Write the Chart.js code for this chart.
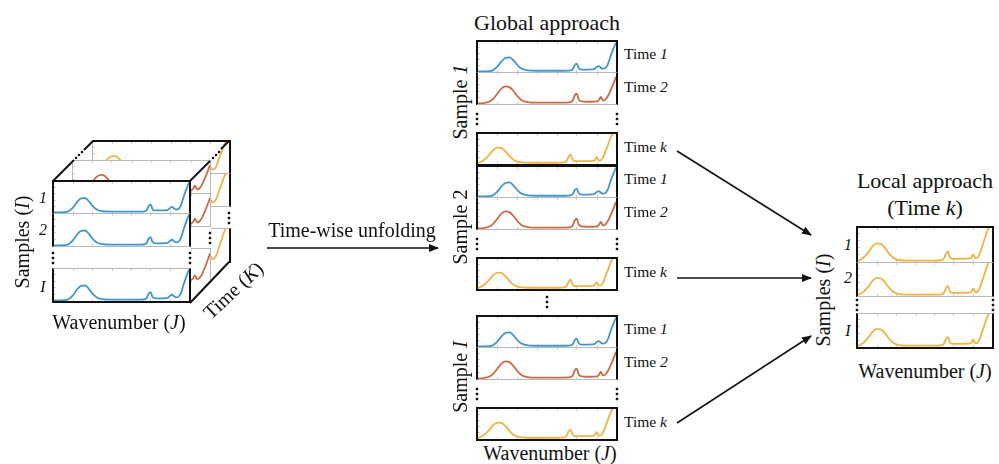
<!DOCTYPE html>
<html>
<head>
<meta charset="utf-8">
<script src="https://cdn.jsdelivr.net/npm/chart.js@4.4.0/dist/chart.umd.min.js"></script>
<style>
body { margin: 0; background: #fff; }
#stage { position: relative; width: 999px; height: 464px; overflow: hidden;
  font-family: "Liberation Serif", "Times New Roman", serif; color: #111; }
.panel { position: absolute; box-sizing: border-box; background: #fff; }
.panel canvas { display: block; }
.bg { position: absolute; background: #fff; }
.txt { position: absolute; white-space: nowrap; line-height: 1; transform: translate(-50%, -50%); }
.lbl { position: absolute; white-space: nowrap; line-height: 1; transform: translate(0, -50%); font-size: 15.5px; }
svg { position: absolute; left: 0; top: 0; }
</style>
</head>
<body>
<div id="stage"></div>
<script>
// spectra (x = position along wavenumber axis, 0..100)
const wavenumber = [0, 4, 8, 11, 14, 17, 20, 23, 26, 29, 32, 36, 42, 50, 58, 62, 64, 65.5, 67, 68.5,
  70, 71.5, 73, 75, 79, 83, 84.5, 86, 87.5, 89, 90.5, 92, 94, 96, 98, 100];
const time1 = [0, 0, 0.005, 0.04, 0.15, 0.32, 0.44, 0.45, 0.34, 0.18, 0.08, 0.035, 0.02, 0.02, 0.02, 0.02, 0.02, 0.025, 0.03, 0.06,
  0.19, 0.25, 0.1, 0.06, 0.06, 0.065, 0.08, 0.14, 0.17, 0.12, 0.09, 0.1, 0.22, 0.48, 0.72, 0.93];
const time2 = [0, 0.01, 0.05, 0.14, 0.3, 0.46, 0.53, 0.5, 0.37, 0.2, 0.09, 0.04, 0.02, 0.02, 0.02, 0.02, 0.025, 0.03, 0.04, 0.08,
  0.24, 0.3, 0.12, 0.06, 0.05, 0.05, 0.055, 0.06, 0.1, 0.2, 0.09, 0.11, 0.22, 0.4, 0.6, 0.83];
const timeK = [0.01, 0.1, 0.27, 0.43, 0.51, 0.5, 0.39, 0.23, 0.11, 0.05, 0.03, 0.02, 0.02, 0.02, 0.02, 0.03, 0.07, 0.2, 0.28, 0.13,
  0.07, 0.07, 0.07, 0.07, 0.075, 0.08, 0.1, 0.2, 0.09, 0.1, 0.18, 0.35, 0.58, 0.82, 1.0, 1.1];
const xTickMarks = [14, 28, 43, 57, 71, 86];
const yTickMarks = [0.2, 0.4, 0.6, 0.8];

const colors = { t1: '#4196d2', t2: '#cc6a45', tk: '#efb443' };
const K2 = [2, '#111'];
const G1 = [1, '#b8b8b8'];

const stage = document.getElementById('stage');

// little inward ticks like the original frames
const innerTicks = {
  id: 'innerTicks',
  beforeDatasetsDraw(chart) {
    const { ctx, chartArea: a, scales: { x, y } } = chart;
    ctx.save();
    ctx.strokeStyle = '#cfcfcf';
    ctx.lineWidth = 1;
    ctx.beginPath();
    xTickMarks.forEach(v => {
      const px = Math.round(x.getPixelForValue(v)) + 0.5;
      ctx.moveTo(px, a.top); ctx.lineTo(px, a.top + 2);
      ctx.moveTo(px, a.bottom); ctx.lineTo(px, a.bottom - 2);
    });
    yTickMarks.forEach(v => {
      const py = Math.round(y.getPixelForValue(v)) + 0.5;
      ctx.moveTo(a.left, py); ctx.lineTo(a.left + 2, py);
    });
    ctx.stroke();
    ctx.restore();
  }
};

function panel(x, y, w, h, values, color, b) {
  const div = document.createElement('div');
  div.className = 'panel';
  div.style.left = x + 'px';
  div.style.top = y + 'px';
  div.style.width = w + 'px';
  div.style.height = h + 'px';
  const names = { t: 'Top', l: 'Left', r: 'Right', b: 'Bottom' };
  const bw = { t: 0, l: 0, r: 0, b: 0 };
  for (const s in names) {
    if (b[s]) {
      bw[s] = b[s][0];
      div.style['border' + names[s]] = b[s][0] + 'px solid ' + b[s][1];
    }
  }
  const cv = document.createElement('canvas');
  cv.width = w - bw.l - bw.r;
  cv.height = h - bw.t - bw.b;
  div.appendChild(cv);
  stage.appendChild(div);

  new Chart(cv, {
    type: 'line',
    data: {
      datasets: [{
        data: wavenumber.map((v, i) => ({ x: v, y: values[i] })),
        borderColor: color,
        borderWidth: 1.8,
        pointRadius: 0,
        cubicInterpolationMode: 'monotone',
        fill: false
      }]
    },
    options: {
      responsive: false,
      animation: false,
      events: [],
      layout: { padding: 0 },
      plugins: { legend: { display: false }, tooltip: { enabled: false } },
      scales: {
        x: { type: 'linear', min: 0, max: 100, display: false },
        y: { min: -0.02, max: 0.95, display: false }
      }
    },
    plugins: [innerTicks]
  });
}

function bg(x, y, w, h) {
  const d = document.createElement('div');
  d.className = 'bg';
  Object.assign(d.style, { left: x + 'px', top: y + 'px', width: w + 'px', height: h + 'px' });
  stage.appendChild(d);
}

function text(html, x, y, size, rot, cls) {
  const d = document.createElement('div');
  d.className = cls || 'txt';
  d.innerHTML = html;
  d.style.left = x + 'px';
  d.style.top = y + 'px';
  if (size) d.style.fontSize = size + 'px';
  if (rot) d.style.transform = 'translate(-50%, -50%) rotate(' + rot + 'deg)';
  stage.appendChild(d);
}

// ---- data cube (back = time k, middle = time 2, front = time 1) ----
function sheet(x, y, values, color, edge, side, front) {
  bg(x, y, 139, 123);
  const top = front ? K2 : edge;
  panel(x, y, 139, 34, values, color, { t: top, l: front ? K2 : G1, r: side, b: G1 });
  panel(x, y + 34, 139, 33, values, color, { l: front ? K2 : G1, r: side, b: G1 });
  panel(x, y + 88, 139, 35, values, color, { t: G1, l: front ? K2 : G1, r: side, b: front ? K2 : 0 });
}
sheet(92, 140, timeK, colors.tk, K2, K2, false);
sheet(72, 160, time2, colors.t2, G1, G1, false);
sheet(52, 180, time1, colors.t1, K2, K2, true);

text('Samples (<i>I</i>)', 22, 242, 20, -90);
text('<i>1</i>', 43, 198, 16);
text('<i>2</i>', 43, 230, 16);
text('<i>I</i>', 43, 287, 16);
text('Wavenumber (<i>J</i>)', 119, 322, 20);
text('Time (<i>K</i>)', 233, 290, 20, -43);

text('Time-wise unfolding', 352, 230, 20);

// ---- global approach ----
const blockTops = [40, 165, 315];
const sampleNames = ['Sample <i>1</i>', 'Sample 2', 'Sample <i>I</i>'];
text('Global approach', 547, 23, 22);
blockTops.forEach((t, i) => {
  panel(476, t, 142, 33, time1, colors.t1, { t: K2, l: K2, r: K2, b: G1 });
  panel(476, t + 33, 142, 32, time2, colors.t2, { l: K2, r: K2, b: G1 });
  panel(476, t + 92, 142, 34, timeK, colors.tk, { t: K2, l: K2, r: K2, b: K2 });
  text('Time <i>1</i>', 624, t + 14, 0, 0, 'lbl');
  text('Time <i>2</i>', 624, t + 47, 0, 0, 'lbl');
  text('Time <i>k</i>', 624, t + 107, 0, 0, 'lbl');
  text(sampleNames[i], 460, t + 62, 20, -90);
});
text('Wavenumber (<i>J</i>)', 550, 453, 20);

// ---- local approach ----
text('Local approach', 925, 181, 22);
text('(Time <i>k</i>)', 925, 208, 22);
panel(856, 226, 138, 37, timeK, colors.tk, { t: K2, l: K2, r: K2, b: G1 });
panel(856, 263, 138, 34, timeK, colors.tk, { l: K2, r: K2, b: G1 });
panel(856, 313, 138, 36, timeK, colors.tk, { t: G1, l: K2, r: K2, b: K2 });
text('Samples (<i>I</i>)', 823, 300, 20, -90);
text('<i>1</i>', 848, 245, 16);
text('<i>2</i>', 848, 278, 16);
text('<i>I</i>', 848, 331, 16);
text('Wavenumber (<i>J</i>)', 925, 371, 20);

// ---- overlay: cube edges, dots, arrows ----
const NS = 'http://www.w3.org/2000/svg';
const svg = document.createElementNS(NS, 'svg');
svg.setAttribute('width', 999);
svg.setAttribute('height', 464);
stage.appendChild(svg);

function el(tag, attrs) {
  const e = document.createElementNS(NS, tag);
  for (const k in attrs) e.setAttribute(k, attrs[k]);
  svg.appendChild(e);
  return e;
}
const defs = el('defs', {});
const marker = document.createElementNS(NS, 'marker');
Object.entries({ id: 'head', markerWidth: 10, markerHeight: 8, refX: 9, refY: 4, orient: 'auto', markerUnits: 'userSpaceOnUse' })
  .forEach(([k, v]) => marker.setAttribute(k, v));
const mp = document.createElementNS(NS, 'path');
mp.setAttribute('d', 'M0,0 L10,4 L0,8 Z');
mp.setAttribute('fill', '#111');
marker.appendChild(mp);
defs.appendChild(marker);

function line(x1, y1, x2, y2, w, head) {
  const a = { x1, y1, x2, y2, stroke: '#111', 'stroke-width': w };
  if (head) a['marker-end'] = 'url(#head)';
  el('line', a);
}
function vdots(x, y) {
  [-5, 0, 5].forEach(d => el('rect', { x: x - 1.2, y: y + d - 1.2, width: 2.4, height: 2.4, fill: '#111' }));
}
function ddots(x, y) {
  [-3, 0, 3].forEach(d => el('rect', { x: x + d - 1.1, y: y - d - 1.1, width: 2.2, height: 2.2, fill: '#111' }));
}

// cube diagonals
line(53, 181, 74, 160, 2);
ddots(79, 155);
line(84, 150, 93, 141, 2);
line(190, 181, 210, 161, 2);
ddots(216, 155);
line(221, 149, 229, 141, 2);
line(190, 303, 229, 262, 2);
vdots(53, 258); vdots(190, 258);
vdots(210, 238); vdots(229, 218);

// global dots
blockTops.forEach(t => { vdots(477, t + 79); vdots(617, t + 79); });
vdots(547, 302);

// local dots
vdots(857, 305); vdots(993, 305);

// arrows
line(267, 248, 438, 248, 1.6, true);
line(677, 151, 811, 235, 1.6, true);
line(677, 278, 811, 278, 1.6, true);
line(677, 423, 811, 336, 1.6, true);
</script>
</body>
</html>
